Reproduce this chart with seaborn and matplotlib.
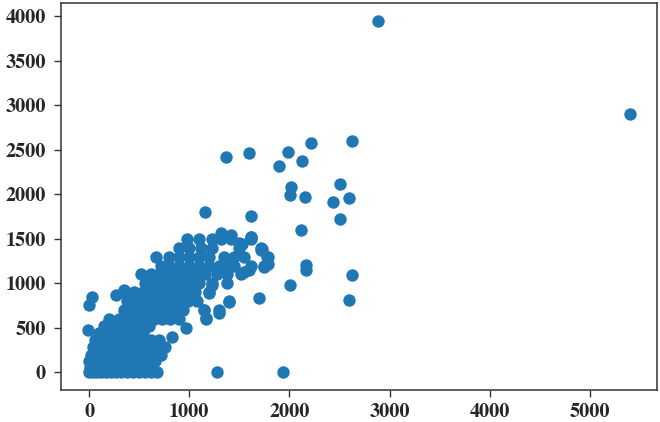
import matplotlib
matplotlib.use("Agg")
import matplotlib.pyplot as plt
from matplotlib import font_manager
import seaborn as sns
import pandas as pd

# bottom dense blob
blob_x = [0,40,80,120,170,220,270,320,380,440,500,560,620,680,
          10,70,130,190,250,310,370,430,490,550,610,
          0,50,110,170,230,290,350,410,470,530,600,660,
          20,80,140,200,260,320,380,440,500,570,640,720,
          40,100,160,220,290,360,420,480,550,620,690,760,
          60,130,200,270,340,410,480,550,620,700,
          100,180,250,330,400,470,540,
          -10,
          150,230,310,390,460,530,600]
blob_y = [0]*14 + [60]*11 + [130]*12 + [200]*12 + [280]*12 + [360]*10 + [440]*7 + [480] + [520]*7

# diagonal band
band_x = [200,300,400,480,560,650,730,810,900,1170,
          350,430,520,600,690,770,860,940,1150,1300,
          380,470,550,640,720,810,900,990,1080,1400,
          350,450,540,620,700,790,880,970,1060,1200,
          560,650,740,830,920,1010,1100,1230,1380,
          520,620,700,800,890,980,1070,1160,1280,1380,1520,
          720,800,900,1000,1100,1200,1300,1370,1450,1620,1750,
          670,800,900,1000,1100,1200,1350,1450,1550,1780,
          900,1000,1120,1230,1500,1720,
          980,1100,1230,1320,1420,1620]
band_y = [600]*10 + [700]*10 + [800]*10 + [900]*10 + [1000]*9 + [1100]*11 + [1200]*11 + [1300]*10 + [1400]*6 + [1500]*6

# scattered points
sparse_x = [30,0,270,350,200,1160,1150,1170,1300,1400,970,830,1700,1200,1230,870,
            1277,1936,2880,5400,2625,2215,1986,1597,1367,1896,2126,2016,2006,2156,
            2505,2435,2595,2505,1617,2116,1617,1527,1727,1786,1786,2166,2166,2625,
            2006,2595,1597,1547,1320,1420,1500,1620,1720,1750]
sparse_y = [851,762,874,930,571,1803,706,616,672,795,504,403,840,896,986,1008,
            0,0,3950,2900,2598,2576,2475,2464,2419,2318,2374,2083,1994,1971,
            2117,1915,1960,1725,1758,1602,1523,1445,1389,1299,1221,1210,1154,1098,
            986,818,1154,1131,1568,1546,1456,1523,1378,1187]

xt = [0, 1000, 2000, 3000, 4000, 5000]
yt = [0, 500, 1000, 1500, 2000, 2500, 3000, 3500, 4000]

df = pd.DataFrame({"x": blob_x + band_x + sparse_x,
                   "y": blob_y + band_y + sparse_y})

sns.set_style("ticks")
plt.rcParams["font.family"] = ["FreeSerif", "Liberation Serif", "DejaVu Serif"]

fp = font_manager.FontProperties(family=["FreeSerif", "Liberation Serif", "DejaVu Serif"],
                                 weight="bold", size=14.5)

fig = plt.figure(figsize=(6.6, 4.22), dpi=100)
ax = fig.add_axes([0.0924, 0.0758, 0.9031, 0.9171])
sns.scatterplot(data=df, x="x", y="y", ax=ax, s=80, color="#1f77b4",
                linewidth=0, alpha=1)
ax.set_xlabel("")
ax.set_ylabel("")
ax.set_xticks(xt)
ax.set_yticks(yt)
ax.set_xticklabels([str(v) for v in xt], fontproperties=fp)
ax.set_yticklabels([str(v) for v in yt], fontproperties=fp)
ax.tick_params(axis="both", length=5, width=1, color="#333333")
ax.tick_params(axis="x", pad=4)
ax.tick_params(axis="y", pad=6)
for sp in ax.spines.values():
    sp.set_color("#333333")
    sp.set_linewidth(1.1)
fig.savefig("out.png", dpi=100)
